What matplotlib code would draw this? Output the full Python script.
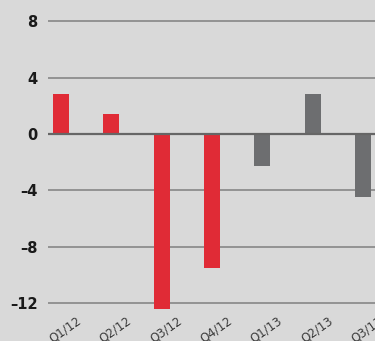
import numpy as np
import matplotlib.pyplot as plt

quarters = ["Q1/12", "Q2/12", "Q3/12", "Q4/12", "Q1/13", "Q2/13", "Q3/13"]
values = [2.8, 1.4, -12.4, -9.5, -2.3, 2.8, -4.5]
is_red = [True, True, True, True, False, False, False]
yticks = [8, 4, 0, -4, -8, -12]
ytick_labels = ["8", "4", "0", "\u20134", "\u20138", "\u201312"]

RED = "#e02b36"
GREY = "#6d6e70"
BG = "#d9d9d9"

fig = plt.figure(figsize=(3.75, 3.41), dpi=100, facecolor=BG)
ax = fig.add_axes([48 / 375, 1 - 311.7 / 341, 1 - 48 / 375, 311.7 / 341])
ax.set_facecolor(BG)

x = np.arange(len(quarters))
colors = [RED if r else GREY for r in is_red]
ax.bar(x, values, width=0.32, color=colors, zorder=3)

for t in yticks:
    if t == 0:
        ax.axhline(t, color="#666666", linewidth=1.6, zorder=4)
    else:
        ax.axhline(t, color="#808080", linewidth=1.1, zorder=1)

ax.set_xlim(-0.26, 6.24)
ax.set_ylim(-12.6, 9.5)
ax.set_yticks(yticks)
ax.set_yticklabels(ytick_labels, fontsize=10.5, fontweight="bold", color="#1a1a1a")
ax.set_xticks([])
for xi, q in zip(x, quarters):
    ax.text(xi + 0.08, -13.9, q, rotation=35, ha="center", va="center",
            fontsize=8.5, color="#3a3a3a", clip_on=False)
ax.tick_params(axis="both", length=0)
ax.tick_params(axis="y", pad=7.5)
for s in ax.spines.values():
    s.set_visible(False)

fig.savefig("out.png", dpi=100, facecolor=BG)
